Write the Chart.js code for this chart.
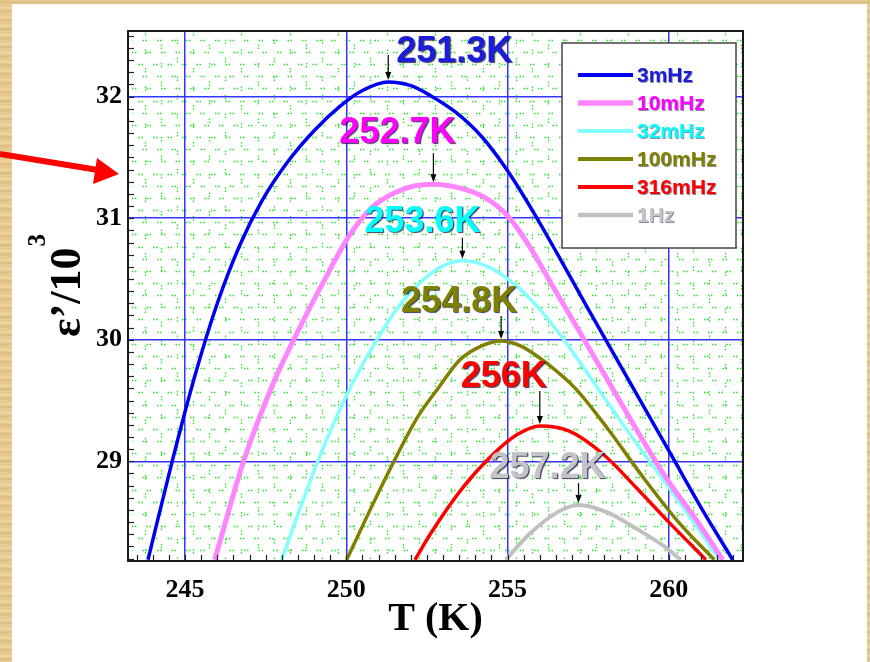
<!DOCTYPE html>
<html>
<head>
<meta charset="utf-8">
<script src="https://cdn.jsdelivr.net/npm/chart.js@4.4.0/dist/chart.umd.min.js"></script>
<style>
  html, body { margin: 0; padding: 0; }
  body {
    width: 870px; height: 662px; overflow: hidden; position: relative;
    background: repeating-linear-gradient(0deg, #ead09a 0px, #dcbb7e 3px, #efd8a8 6px, #e3c488 9px);
  }
  #panel { position: absolute; left: 12px; top: 4px; width: 855px; height: 658px; background: #fff; }
  #wrap { position: absolute; left: 0; top: 0; width: 870px; height: 662px; }
</style>
</head>
<body>
<div id="panel"></div>
<div id="wrap"><canvas id="chart"></canvas></div>
<script>
// ---------- data ----------
const tempTicks = [245, 250, 255, 260];
const epsTicks = [29, 30, 31, 32];
const seriesNames = ["3mHz", "10mHz", "32mHz", "100mHz", "316mHz", "1Hz"];
const peakTemps = [251.3, 252.7, 253.6, 254.8, 256, 257.2];
const peakLabels = ["251.3K", "252.7K", "253.6K", "254.8K", "256K", "257.2K"];

const t3mHz = [243.85, 244.6, 245.3, 246.0, 246.7, 247.4, 248.2, 249.0, 249.8, 250.5, 251.3, 252.0, 252.6, 253.4, 254.2, 255.0, 255.8, 256.6, 257.4, 258.3, 259.2, 260.1, 261.0, 261.98];
const e3mHz = [28.19, 29.0, 29.7, 30.3, 30.78, 31.15, 31.47, 31.72, 31.92, 32.05, 32.12, 32.09, 32.01, 31.87, 31.67, 31.39, 31.05, 30.68, 30.3, 29.88, 29.46, 29.04, 28.62, 28.19];

const t10mHz = [245.92, 246.8, 247.7, 248.5, 249.3, 250.1, 250.8, 251.5, 252.1, 252.7, 253.5, 254.3, 255.0, 255.7, 256.4, 257.2, 258.1, 259.0, 259.9, 260.9, 261.67];
const e10mHz = [28.19, 28.99, 29.62, 30.07, 30.48, 30.86, 31.09, 31.21, 31.265, 31.28, 31.25, 31.17, 31.02, 30.76, 30.44, 30.08, 29.67, 29.26, 28.87, 28.5, 28.19];

const t32mHz = [247.99, 249.1, 250.0, 250.9, 251.7, 252.5, 253.1, 253.6, 254.4, 255.2, 256.0, 256.8, 257.8, 258.8, 259.9, 260.9, 261.57];
const e32mHz = [28.19, 28.99, 29.54, 29.98, 30.3, 30.52, 30.62, 30.65, 30.6, 30.46, 30.25, 29.98, 29.6, 29.22, 28.82, 28.45, 28.19];

const t100mHz = [250.01, 250.7, 251.4, 252.2, 252.9, 253.5, 254.2, 254.8, 255.4, 256.2, 257.1, 258.1, 259.2, 260.3, 261.41];
const e100mHz = [28.19, 28.58, 28.96, 29.36, 29.62, 29.83, 29.95, 29.99, 29.95, 29.81, 29.6, 29.27, 28.87, 28.5, 28.19];

const t316mHz = [252.13, 252.6, 253.6, 254.6, 255.3, 256.0, 256.9, 258.0, 259.0, 260.0, 261.15];
const e316mHz = [28.19, 28.4, 28.78, 29.07, 29.22, 29.29, 29.25, 29.05, 28.78, 28.5, 28.19];

const t1Hz = [254.94, 255.71, 256.54, 257.2, 258.09, 259.03, 259.86, 260.37];
const e1Hz = [28.19, 28.41, 28.58, 28.64, 28.58, 28.44, 28.3, 28.19];

// ---------- styles ----------
const lineColors = ["#0000f0", "#ff84ff", "#84ffff", "#808000", "#ff0000", "#c0c0c0"];
const textColors = ["#1c1cdc", "#ff00ff", "#00ffff", "#808000", "#ff0000", "#c4c4c8"];
const lineWidths = [3.5, 5, 3.5, 3.5, 3.5, 4];
const labelDx = [66, -36, -40, -42, -36, -31];
const labelDy = [-30, -51, -39, -39, -49, -37];
const arrowTop = [-27, -31, -23, -25, -35, -22];

const temps = [t3mHz, t10mHz, t32mHz, t100mHz, t316mHz, t1Hz];
const eps = [e3mHz, e10mHz, e32mHz, e100mHz, e316mHz, e1Hz];

function pts(ts, es) { return ts.map((t, i) => ({ x: t, y: es[i] })); }

const SERIF = "'Liberation Serif', 'Times New Roman', serif";
const SANS = "'Liberation Sans', Arial, sans-serif";

// background dots, minor ticks, frame, labels, legend, arrow
const decor = {
  id: "decor",
  beforeDraw(chart) {
    const { ctx, chartArea: a, scales: { x, y } } = chart;
    ctx.save();
    ctx.beginPath();
    ctx.rect(a.left, a.top, a.right - a.left, a.bottom - a.top);
    ctx.clip();
    ctx.strokeStyle = "#22e622";
    ctx.lineWidth = 1.3;
    ctx.setLineDash([1.5, 1.5, 1.5, 10]);
    let k = 0;
    for (let v = 28.2; v < 32.6; v += 0.1) {
      const py = Math.round(y.getPixelForValue(v)) + 4.5;
      ctx.lineDashOffset = (k++ % 3) * 4;
      ctx.beginPath(); ctx.moveTo(a.left + 4, py); ctx.lineTo(a.right, py); ctx.stroke();
    }
    ctx.setLineDash([1.5, 1.5, 1.5, 14]);
    k = 0;
    for (let t = 243.5; t < 262.5; t += 0.5) {
      const px = Math.round(x.getPixelForValue(t)) + 8.5;
      ctx.lineDashOffset = (k++ % 3) * 5;
      ctx.beginPath(); ctx.moveTo(px, a.top); ctx.lineTo(px, a.bottom); ctx.stroke();
    }
    ctx.restore();
  },
  afterDatasetsDraw(chart) {
    const { ctx, chartArea: a, scales: { x, y } } = chart;
    ctx.save();
    // minor ticks (inside)
    ctx.strokeStyle = "#222";
    ctx.lineWidth = 1.2;
    for (let v = 28.2; v < 32.55; v += 0.1) {
      const py = Math.round(y.getPixelForValue(v)) + 0.5;
      ctx.beginPath(); ctx.moveTo(a.left, py); ctx.lineTo(a.left + 6, py); ctx.stroke();
    }
    for (let t = 243.5; t < 262.3; t += 0.5) {
      const px = Math.round(x.getPixelForValue(t)) + 0.5;
      ctx.beginPath(); ctx.moveTo(px, a.bottom); ctx.lineTo(px, a.bottom - 6); ctx.stroke();
    }
    // frame
    ctx.strokeStyle = "#1a1a1a";
    ctx.lineWidth = 2;
    ctx.strokeRect(a.left, a.top, a.right - a.left, a.bottom - a.top);

    // peak labels with arrows
    peakTemps.forEach((pt, i) => {
      const px = x.getPixelForValue(pt);
      const py = y.getPixelForValue(Math.max(...eps[i]));
      ctx.strokeStyle = "#000";
      ctx.fillStyle = "#000";
      ctx.lineWidth = 1.2;
      ctx.beginPath(); ctx.moveTo(px, py + arrowTop[i]); ctx.lineTo(px, py - 8); ctx.stroke();
      ctx.beginPath(); ctx.moveTo(px - 3, py - 10); ctx.lineTo(px + 3, py - 10); ctx.lineTo(px, py - 2); ctx.closePath(); ctx.fill();

      ctx.font = "bold 36px " + SANS;
      ctx.textAlign = "center";
      ctx.textBaseline = "middle";
      ctx.shadowColor = "rgba(0,0,40,0.75)";
      ctx.shadowOffsetX = 1.2; ctx.shadowOffsetY = 1.2; ctx.shadowBlur = 1;
      ctx.fillStyle = textColors[i];
      ctx.fillText(peakLabels[i], px + labelDx[i], py + labelDy[i]);
      ctx.shadowColor = "transparent";
    });

    // legend box
    const lx = 562, ly = 43, lw = 174, lh = 205;
    ctx.fillStyle = "#fff";
    ctx.fillRect(lx, ly, lw, lh);
    ctx.strokeStyle = "#444";
    ctx.lineWidth = 1.5;
    ctx.strokeRect(lx, ly, lw, lh);
    seriesNames.forEach((name, i) => {
      const ry = ly + 32 + i * 28;
      ctx.strokeStyle = lineColors[i];
      ctx.lineWidth = lineWidths[i] + 0.5;
      ctx.beginPath(); ctx.moveTo(lx + 16, ry); ctx.lineTo(lx + 71, ry); ctx.stroke();
      ctx.font = "bold 21px " + SANS;
      ctx.textAlign = "left";
      ctx.textBaseline = "middle";
      ctx.shadowColor = "rgba(0,0,40,0.45)";
      ctx.shadowOffsetX = 0.8; ctx.shadowOffsetY = 0.8; ctx.shadowBlur = 0.5;
      ctx.fillStyle = textColors[i];
      ctx.fillText(name, lx + 75, ry + 1);
      ctx.shadowColor = "transparent";
    });

    // y axis title
    ctx.save();
    ctx.translate(80, 286);
    ctx.rotate(-Math.PI / 2);
    ctx.fillStyle = "#000";
    ctx.textBaseline = "alphabetic";
    ctx.textAlign = "left";
    ctx.font = "bold 44px " + SERIF;
    const main = "\u03b5\u2019/10";
    const w1 = ctx.measureText(main).width;
    ctx.font = "bold 25px " + SERIF;
    const w2 = ctx.measureText("3").width;
    const sx = -(w1 + w2) / 2;
    ctx.font = "bold 44px " + SERIF;
    ctx.fillText(main, sx, 0);
    ctx.font = "bold 25px " + SERIF;
    ctx.fillText("3", sx + w1 + 1, -35);
    ctx.restore();

    // red pointer arrow on the left
    ctx.strokeStyle = "#ff0000";
    ctx.fillStyle = "#ff0000";
    ctx.lineWidth = 6;
    ctx.beginPath(); ctx.moveTo(0, 154); ctx.lineTo(98, 170); ctx.stroke();
    ctx.beginPath();
    ctx.moveTo(119, 174); ctx.lineTo(93, 184); ctx.lineTo(97, 158); ctx.closePath();
    ctx.fill();
    ctx.restore();
  }
};

const datasets = seriesNames.map((name, i) => ({
  label: name,
  data: pts(temps[i], eps[i]),
  showLine: true,
  borderColor: lineColors[i],
  borderWidth: lineWidths[i],
  pointRadius: 0,
  cubicInterpolationMode: "monotone",
  fill: false
}));

new Chart(document.getElementById("chart"), {
  type: "scatter",
  data: { datasets },
  options: {
    responsive: true,
    maintainAspectRatio: false,
    animation: false,
    devicePixelRatio: 1,
    layout: { padding: { left: 0, top: 31, right: 127, bottom: 0 } },
    plugins: { legend: { display: false }, tooltip: { enabled: false } },
    scales: {
      x: {
        type: "linear",
        min: 243.23, max: 262.3,
        afterBuildTicks: s => { s.ticks = tempTicks.map(v => ({ value: v })); },
        afterFit: s => { s.height = 101; },
        grid: { color: "#3434ff", lineWidth: 1.5, drawTicks: false },
        border: { display: false },
        ticks: { color: "#000", padding: 14, font: { family: SERIF, size: 26, weight: "bold" } },
        title: { display: true, text: "T (K)", color: "#000", padding: { top: 0, bottom: 18 },
                 font: { family: SERIF, size: 40, weight: "bold" } }
      },
      y: {
        type: "linear",
        min: 28.18, max: 32.54,
        afterBuildTicks: s => { s.ticks = epsTicks.map(v => ({ value: v })); },
        afterFit: s => { s.width = 128; },
        grid: { color: "#3434ff", lineWidth: 1.5, drawTicks: false },
        border: { display: false },
        ticks: { color: "#000", padding: 6, font: { family: SERIF, size: 26, weight: "bold" } }
      }
    }
  },
  plugins: [decor]
});
</script>
</body>
</html>
